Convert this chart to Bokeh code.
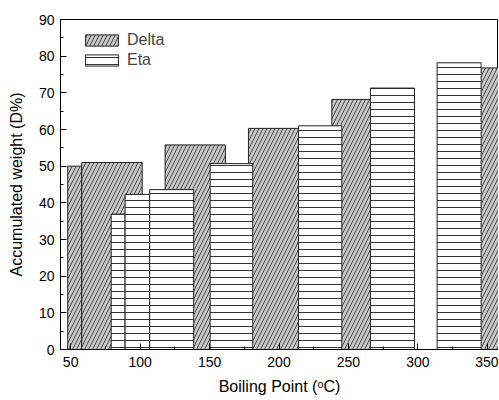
from bokeh.plotting import figure
from bokeh.models import ColumnDataSource, SingleIntervalTicker, Legend, LegendItem, Range1d
from bokeh.embed import file_html
from bokeh.resources import INLINE

# Delta bars (left edge, right edge, height)
delta_left = [47.9, 58.0, 118.0, 178.0, 238.0, 338.0]
delta_right = [58.0, 101.5, 161.4, 221.4, 281.4, 381.4]
delta_top = [50.0, 51.0, 55.8, 60.3, 68.2, 76.8]

# Eta bars
eta_left = [79.2, 89.2, 106.9, 150.4, 214.0, 265.8, 313.8]
eta_right = [89.2, 106.9, 138.6, 181.1, 245.2, 297.5, 345.5]
eta_top = [36.9, 42.3, 43.6, 50.7, 61.0, 71.3, 78.2]

FONT = "Liberation Sans"

p = figure(frame_width=438, frame_height=330, output_backend="svg", toolbar_location=None,
           x_range=Range1d(42.7, 358.0), y_range=Range1d(0, 90),
           min_border_left=60, min_border_right=0, min_border_top=19, min_border_bottom=50)
p.xgrid.visible = False
p.ygrid.visible = False
p.outline_line_color = "black"
p.outline_line_width = 1
p.background_fill_color = "white"
p.border_fill_color = "white"

dsrc = ColumnDataSource(dict(left=delta_left, right=delta_right, top=delta_top,
                             bottom=[0] * len(delta_top)))
esrc = ColumnDataSource(dict(left=eta_left, right=eta_right, top=eta_top,
                             bottom=[0] * len(eta_top)))

rd = p.quad(left="left", right="right", top="top", bottom="bottom", source=dsrc,
            fill_color="#c8c8c8", line_color="#222222", line_width=1,
            hatch_pattern="/", hatch_color="#111111", hatch_scale=8, hatch_weight=0.7)
re = p.quad(left="left", right="right", top="top", bottom="bottom", source=esrc,
            fill_color="white", line_color="#222222", line_width=1,
            hatch_pattern="-", hatch_color="black", hatch_scale=7, hatch_weight=0.8)

legend = Legend(items=[LegendItem(label="Delta", renderers=[rd]),
                       LegendItem(label="Eta", renderers=[re])],
                location=(21, 280), padding=0, margin=0, spacing=2,
                glyph_width=41, glyph_height=14, label_height=14,
                label_standoff=5, label_text_font=FONT, label_text_font_size="16px",
                border_line_color=None, background_fill_alpha=0)
p.add_layout(legend)

p.xaxis.ticker = SingleIntervalTicker(interval=50, num_minor_ticks=2)
p.yaxis.ticker = SingleIntervalTicker(interval=10, num_minor_ticks=2)
for ax in (p.xaxis, p.yaxis):
    ax.major_tick_in = 6
    ax.major_tick_out = 0
    ax.minor_tick_in = 3
    ax.minor_tick_out = 0
    ax.axis_line_color = "black"
    ax.major_tick_line_color = "black"
    ax.minor_tick_line_color = "black"
    ax.major_label_text_font = FONT
    ax.major_label_text_font_size = "14px"
    ax.major_label_text_color = "black"
    ax.axis_label_text_font = FONT
    ax.axis_label_text_font_size = "16px"
    ax.axis_label_text_font_style = "normal"
    ax.axis_label_text_color = "black"

p.xaxis.axis_label = "Boiling Point (\u1d52C)"
p.yaxis.axis_label = "Accumulated weight (D%)"
p.xaxis.major_label_standoff = 7
p.xaxis.axis_label_standoff = 8
p.yaxis.major_label_standoff = 6
p.yaxis.axis_label_standoff = 11

open("out.html", "w").write(file_html(p, INLINE))
